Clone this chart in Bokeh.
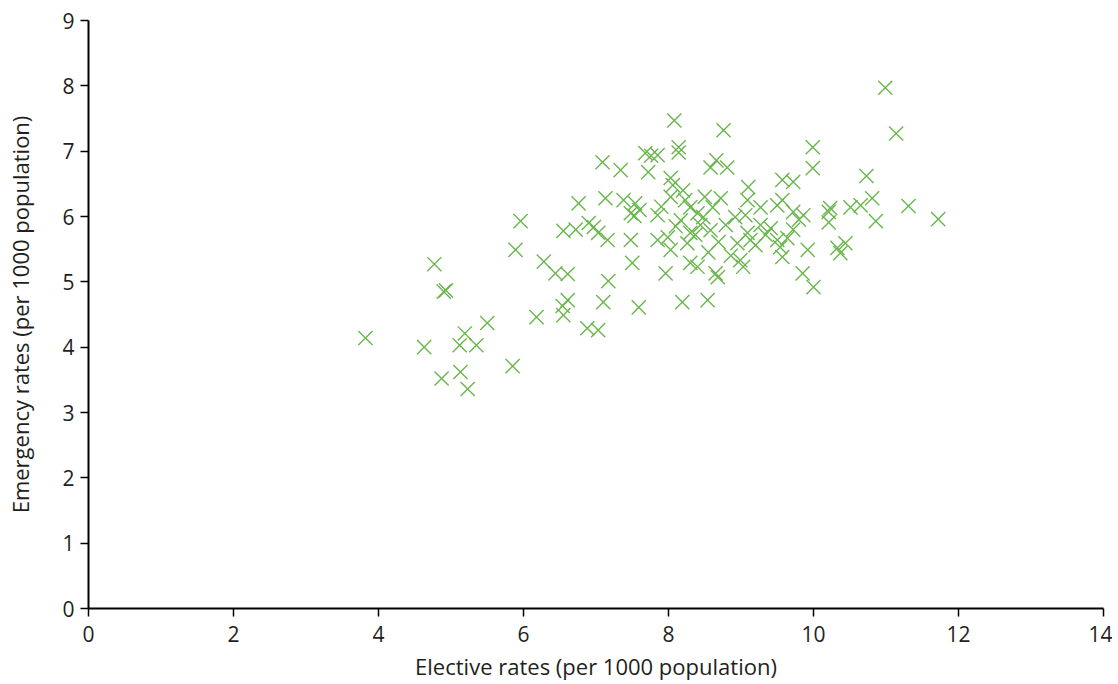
from bokeh.plotting import figure
from bokeh.models import Range1d, FixedTicker, ColumnDataSource
from bokeh.embed import file_html
from bokeh.resources import INLINE

elective = [
    3.82, 4.77, 4.90, 4.93, 4.63, 4.87, 5.12, 5.19, 5.35, 5.13, 5.23, 5.50, 5.85, 5.89, 5.96,
    6.18, 6.28, 6.44, 6.61, 6.55, 6.61, 6.54, 6.55, 6.72, 6.76, 6.88, 7.03, 7.10, 7.17, 6.90,
    7.03, 7.16, 6.97, 7.09, 7.34, 7.13, 7.38, 7.54, 7.48, 7.53, 7.48, 7.50, 7.59, 7.68, 7.76,
    7.85, 8.14, 8.14, 8.08, 7.72, 8.03, 8.06, 8.03, 8.23, 8.30, 7.85, 7.85, 7.99, 8.03, 7.96,
    8.19, 8.26, 8.30, 8.40, 8.40, 8.48, 8.61, 8.72, 8.66, 8.58, 8.81, 8.76, 8.65, 8.68, 8.54,
    8.69, 8.92, 8.95, 8.99, 9.09, 9.09, 9.13, 9.10, 9.27, 9.50, 9.57, 9.57, 9.72, 9.72, 9.86,
    9.50, 9.54, 9.64, 9.57, 9.92, 9.85, 10.00, 9.99, 9.99, 10.21, 10.21, 10.33, 10.23, 10.44,
    10.37, 10.51, 10.65, 10.81, 10.73, 10.86, 10.99, 11.14, 11.31, 11.72,
    8.44, 8.58, 8.79, 9.27, 9.34, 8.37, 8.17, 9.06, 9.20, 9.41, 8.86, 9.03, 8.20, 8.50, 7.60,
    9.72, 9.80, 8.30, 8.55, 8.10, 7.90,
]
emergency = [
    4.14, 5.27, 4.85, 4.87, 4.00, 3.52, 4.03, 4.21, 4.03, 3.62, 3.36, 4.37, 3.71, 5.49, 5.93,
    4.46, 5.31, 5.13, 5.12, 4.49, 4.72, 4.63, 5.78, 5.80, 6.20, 4.29, 4.26, 4.69, 5.01, 5.90,
    5.75, 5.64, 5.84, 6.83, 6.71, 6.28, 6.25, 6.20, 6.05, 6.01, 5.64, 5.29, 4.61, 6.97, 6.93,
    6.94, 7.06, 6.98, 7.47, 6.68, 6.59, 6.48, 6.30, 6.25, 6.14, 6.02, 5.64, 5.68, 5.49, 5.13,
    4.69, 5.59, 5.29, 5.23, 6.05, 5.99, 6.14, 6.28, 6.86, 6.75, 6.75, 7.32, 5.13, 5.07, 4.72,
    5.61, 5.99, 5.59, 5.33, 6.25, 5.75, 5.64, 6.45, 6.14, 6.17, 6.25, 6.56, 6.53, 6.07, 6.02,
    5.64, 5.53, 5.67, 5.38, 5.49, 5.13, 4.92, 7.06, 6.74, 6.07, 5.91, 5.52, 6.13, 5.59,
    5.44, 6.14, 6.17, 6.28, 6.62, 5.93, 7.97, 7.27, 6.16, 5.96,
    5.87, 5.79, 5.87, 5.87, 5.72, 5.72, 5.94, 6.02, 5.56, 5.82, 5.40, 5.23, 6.40, 6.30, 6.10,
    5.80, 5.95, 5.75, 5.45, 5.85, 6.15,
]
x_ticks = [0, 2, 4, 6, 8, 10, 12, 14]
y_ticks = [0, 1, 2, 3, 4, 5, 6, 7, 8, 9]

FONT = "Open Sans"

p = figure(width=1112, height=683, output_backend="svg", toolbar_location=None,
           x_range=Range1d(0, 14), y_range=Range1d(0, 9),
           min_border_left=88, min_border_right=9, min_border_top=20, min_border_bottom=67)

src = ColumnDataSource(dict(x=elective, y=emergency))
p.scatter("x", "y", source=src, marker="x", size=20, line_color="#69b74c", line_width=1.4)

p.xgrid.visible = False
p.ygrid.visible = False
p.outline_line_color = None
p.background_fill_color = "white"
p.border_fill_color = "white"

for ax, ticks in ((p.xaxis[0], x_ticks), (p.yaxis[0], y_ticks)):
    ax.ticker = FixedTicker(ticks=ticks)
    ax.axis_line_color = "black"
    ax.axis_line_width = 2
    ax.major_tick_line_color = "black"
    ax.major_tick_line_width = 1.5
    ax.major_tick_in = 0
    ax.major_tick_out = 8
    ax.minor_tick_line_color = None
    ax.major_label_text_font = FONT
    ax.major_label_text_font_size = "21px"
    ax.major_label_text_color = "#231f20"
    ax.axis_label_text_font = FONT
    ax.axis_label_text_font_size = "22px"
    ax.axis_label_text_font_style = "normal"
    ax.axis_label_text_color = "#231f20"

p.xaxis[0].axis_label = "Elective rates (per 1000 population)"
p.yaxis[0].axis_label = "Emergency rates (per 1000 population)"
p.xaxis[0].major_label_standoff = 9
p.yaxis[0].major_label_standoff = 6
p.xaxis[0].axis_label_standoff = 6
p.yaxis[0].axis_label_standoff = 24

open("out.html", "w").write(file_html(p, INLINE))
